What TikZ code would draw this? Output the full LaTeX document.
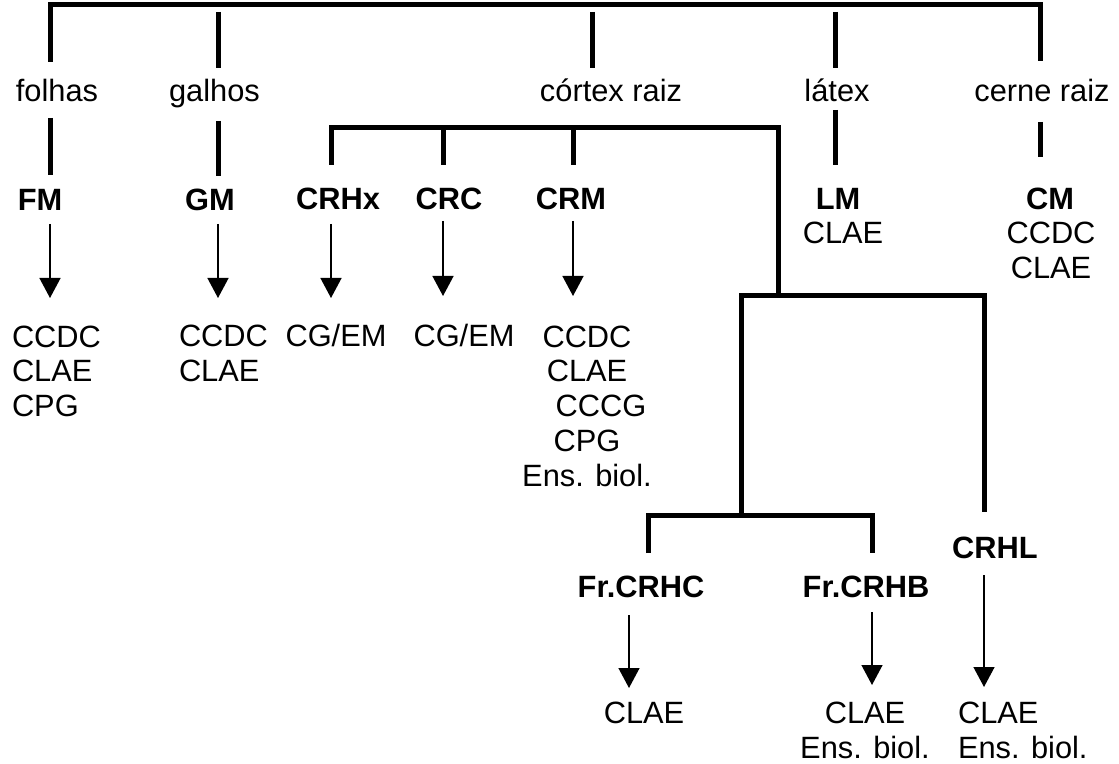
\documentclass[tikz,border=0pt]{standalone}
\usepackage{fontspec}
\setmainfont{Liberation Sans}
\usetikzlibrary{arrows.meta}
\begin{document}
\begin{tikzpicture}[x=0.5pt,y=-0.5pt,
  txt/.style={inner sep=0pt,outer sep=0pt,anchor=base,font=\fontsize{15.4}{17.5}\selectfont},
  btxt/.style={txt,font=\fontsize{15.4}{17.5}\selectfont\bfseries},
  thick line/.style={line width=2.5pt,line join=miter,line cap=butt},
  arr/.style={line width=0.7pt,-{Triangle[length=10pt,width=10.5pt]}}]
\useasboundingbox (0,0) rectangle (1119,764);
% --- text nodes (multi-line nodes are anchored at the baseline of their last line)
\node[txt] (folhas) at (57,102) {folhas};
\node[txt] (galhos) at (214.5,102) {galhos};
\node[txt] (cortex) at (611,102) {córtex raiz};
\node[txt] (latex) at (837,102) {látex};
\node[txt] (cerne) at (1042,102) {cerne raiz};
\node[btxt] (FM) at (40,211) {FM};
\node[btxt] (GM) at (210,211) {GM};
\node[btxt] (CRHx) at (338,210) {CRHx};
\node[btxt] (CRC) at (449,210) {CRC};
\node[btxt] (CRM) at (571,210) {CRM};
\node[btxt] (LM) at (838,210) {LM};
\node[txt] (LMr) at (843,244) {CLAE};
\node[btxt] (CM) at (1050,210) {CM};
\node[txt,align=center] (CMr) at (1051,279) {CCDC\\CLAE};
\node[txt,anchor=base west,align=left] (FMr) at (12,417) {CCDC\\CLAE\\CPG};
\node[txt,anchor=base west,align=left] (GMr) at (179,382) {CCDC\\CLAE};
\node[txt] (CRHxr) at (336,347) {CG/EM};
\node[txt] (CRCr) at (464,347) {CG/EM};
\node[txt,align=center] (CRMr) at (587,487) {CCDC\\CLAE\\\hspace*{14pt}CCCG\\CPG\\Ens. biol.};
\node[btxt] (FrC) at (641,597) {Fr.CRHC};
\node[btxt] (FrB) at (866,597) {Fr.CRHB};
\node[btxt] (CRHL) at (995,558) {CRHL};
\node[txt] (FrCr) at (644,723) {CLAE};
\node[txt,align=center] (FrBr) at (865,758) {CLAE\\Ens. biol.};
\node[txt,anchor=base west,align=left] (CRHLr) at (958,758) {CLAE\\Ens. biol.};
% --- junction coordinates
\coordinate (t1) at (50,62);   \coordinate (t1c) at (50,5);
\coordinate (t5c) at (1040,5); \coordinate (t5) at (1040,61);
\coordinate (g1) at (218,12);  \coordinate (g2) at (218,68);
\coordinate (c1) at (592,12);  \coordinate (c2) at (592,68);
\coordinate (l1) at (835,12);  \coordinate (l2) at (835,68);
\coordinate (f3) at (50,118);  \coordinate (f4) at (50,175);
\coordinate (g3) at (218,121); \coordinate (g4) at (218,176);
\coordinate (l3) at (835,110); \coordinate (l4) at (835,165);
\coordinate (e3) at (1040,122);\coordinate (e4) at (1040,157);
\coordinate (b1) at (331,165); \coordinate (b1c) at (331,128);
\coordinate (b4c) at (778,128);\coordinate (b4) at (778,296);
\coordinate (b2a) at (443,128);\coordinate (b2) at (443,165);
\coordinate (b3a) at (573,128);\coordinate (b3) at (573,165);
\coordinate (d1) at (741,515); \coordinate (d1c) at (741,296);
\coordinate (d2c) at (984,296);\coordinate (d2) at (984,512);
\coordinate (h1) at (648,553); \coordinate (h1c) at (648,515);
\coordinate (h2c) at (872,515);\coordinate (h2) at (872,553);
% --- thick brackets
\draw[thick line] (t1) -- (t1c) -- (t5c) -- (t5);
\draw[thick line] (g1) -- (g2);
\draw[thick line] (c1) -- (c2);
\draw[thick line] (l1) -- (l2);
\draw[thick line] (f3) -- (f4);
\draw[thick line] (g3) -- (g4);
\draw[thick line] (l3) -- (l4);
\draw[thick line] (e3) -- (e4);
\draw[thick line] (b1) -- (b1c) -- (b4c) -- (b4);
\draw[thick line] (b2a) -- (b2);
\draw[thick line] (b3a) -- (b3);
\draw[thick line] (d1) -- (d1c) -- (d2c) -- (d2);
\draw[thick line] (h1) -- (h1c) -- (h2c) -- (h2);
% --- arrows
\coordinate (a1s) at (50,224);  \coordinate (a1e) at (50,298);
\coordinate (a2s) at (218,224); \coordinate (a2e) at (218,298);
\coordinate (a3s) at (331,224); \coordinate (a3e) at (331,298);
\coordinate (a4s) at (443,221); \coordinate (a4e) at (443,296);
\coordinate (a5s) at (573,221); \coordinate (a5e) at (573,296);
\coordinate (a6s) at (629,615); \coordinate (a6e) at (629,688);
\coordinate (a7s) at (872,612); \coordinate (a7e) at (872,685);
\coordinate (a8s) at (984,575); \coordinate (a8e) at (984,687);
\draw[arr] (a1s) -- (a1e);
\draw[arr] (a2s) -- (a2e);
\draw[arr] (a3s) -- (a3e);
\draw[arr] (a4s) -- (a4e);
\draw[arr] (a5s) -- (a5e);
\draw[arr] (a6s) -- (a6e);
\draw[arr] (a7s) -- (a7e);
\draw[arr] (a8s) -- (a8e);
\end{tikzpicture}
\end{document}
